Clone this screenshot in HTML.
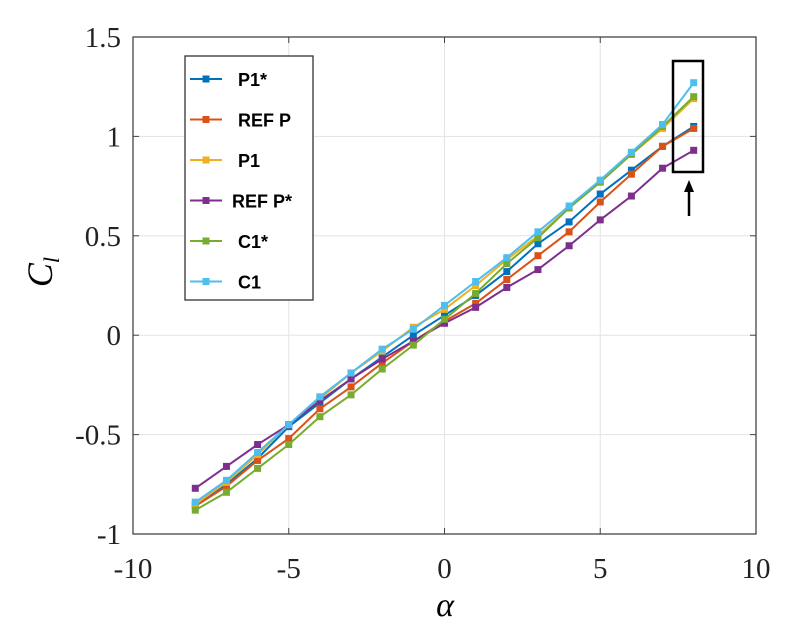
<!DOCTYPE html>
<html><head><meta charset="utf-8"><style>
body{margin:0;background:#fff;width:789px;height:633px;overflow:hidden}
text{font-family:"Liberation Serif",serif}
</style></head><body>
<svg id="chart" width="789" height="633" xmlns="http://www.w3.org/2000/svg">
<g id="grid"></g>
<rect x="133" y="37" width="623" height="497" fill="none" stroke="#444" stroke-width="1.3"/>
<g id="ticks"></g>
<g id="series"></g>
<text x="445" y="616" font-size="34" font-style="italic" text-anchor="middle">α</text>
<text transform="translate(52,272) rotate(-90)" font-size="36" font-style="italic" text-anchor="middle">C<tspan font-size="22" dy="7">l</tspan></text>
<g id="legend">
<rect x="185" y="56" width="128" height="244" fill="#fff" stroke="#333" stroke-width="1.3"/>
</g>
<rect x="673" y="61" width="30" height="111" fill="none" stroke="#000" stroke-width="2.5"/>
<line x1="689" y1="216" x2="689" y2="188" stroke="#000" stroke-width="2.5"/>
<polygon points="689,180 684,192 694,192" fill="#000"/>
</svg>
<script>
const alphas=[-8,-7,-6,-5,-4,-3,-2,-1,0,1,2,3,4,5,6,7,8];
const seriesNames=["P1*","REF P","P1","REF P*","C1*","C1"];
const seriesColors=["#0072BD","#D95319","#EDB120","#7E2F8E","#77AC30","#4DBEEE"];
const p1Star=[-0.85,-0.75,-0.62,-0.46,-0.34,-0.22,-0.11,0.00,0.10,0.20,0.32,0.46,0.57,0.71,0.83,0.95,1.05];
const refP=[-0.86,-0.76,-0.63,-0.52,-0.37,-0.26,-0.14,-0.03,0.07,0.16,0.28,0.40,0.52,0.67,0.81,0.95,1.04];
const p1=[-0.85,-0.74,-0.60,-0.45,-0.32,-0.19,-0.08,0.04,0.13,0.25,0.38,0.50,0.64,0.77,0.91,1.04,1.19];
const refPStar=[-0.77,-0.66,-0.55,-0.45,-0.33,-0.22,-0.12,-0.03,0.06,0.14,0.24,0.33,0.45,0.58,0.70,0.84,0.93];
const c1Star=[-0.88,-0.79,-0.67,-0.55,-0.41,-0.30,-0.17,-0.05,0.08,0.21,0.36,0.49,0.64,0.77,0.91,1.05,1.20];
const c1=[-0.84,-0.73,-0.59,-0.45,-0.31,-0.19,-0.07,0.03,0.15,0.27,0.39,0.52,0.65,0.78,0.92,1.06,1.27];
const xTicks=[-10,-5,0,5,10];
const yTicks=[-1,-0.5,0,0.5,1,1.5];
const yTickLabels=["-1","-0.5","0","0.5","1","1.5"];
const allSeries=[p1Star,refP,p1,refPStar,c1Star,c1];

const NS="http://www.w3.org/2000/svg";
function xs(v){return 133+(v+10)/20*623;}
function ys(v){return 534-(v+1)/2.5*497;}
function mk(tag,attrs,parent){const e=document.createElementNS(NS,tag);for(const k in attrs)e.setAttribute(k,attrs[k]);parent.appendChild(e);return e;}
const grid=document.getElementById('grid'),ticks=document.getElementById('ticks'),ser=document.getElementById('series'),leg=document.getElementById('legend');
xTicks.forEach(t=>{
  const g=mk('line',{x1:xs(t),x2:xs(t),y1:37,y2:534,stroke:'#e3e3e3','stroke-width':1},grid);
  
  
  mk('line',{x1:xs(t),x2:xs(t),y1:534,y2:528,stroke:'#444'},ticks);
  mk('line',{x1:xs(t),x2:xs(t),y1:37,y2:43,stroke:'#444'},ticks);
  const l=mk('text',{x:xs(t),y:578,'font-size':29,'text-anchor':'middle',fill:'#222'},ticks);
  l.textContent=String(t);
  
  
});
yTicks.forEach((t,i)=>{
  const g=mk('line',{x1:133,x2:756,y1:ys(t),y2:ys(t),stroke:'#e3e3e3','stroke-width':1},grid);
  
  
  mk('line',{x1:133,x2:139,y1:ys(t),y2:ys(t),stroke:'#444'},ticks);
  mk('line',{x1:756,x2:750,y1:ys(t),y2:ys(t),stroke:'#444'},ticks);
  const l=mk('text',{x:121,y:ys(t)+10,'font-size':29,'text-anchor':'end',fill:'#222'},ticks);
  l.textContent=yTickLabels[i];
  
  
});
allSeries.forEach((vals,si)=>{
  const g=mk('g',{},ser);
  
  
  const pts=vals.map((v,i)=>xs(alphas[i])+','+ys(v)).join(' ');
  mk('polyline',{points:pts,fill:'none',stroke:seriesColors[si],'stroke-width':2},g);
  vals.forEach((v,i)=>{
    const m=mk('rect',{x:xs(alphas[i])-3.5,y:ys(v)-3.5,width:7,height:7,fill:seriesColors[si]},g);
    
    
  });
  const y=79+si*40.5;
  const e=mk('g',{},leg);
  
  
  mk('line',{x1:190,x2:222,y1:y,y2:y,stroke:seriesColors[si],'stroke-width':2},e);
  mk('rect',{x:202.5,y:y-3.5,width:7,height:7,fill:seriesColors[si]},e);
  const t=mk('text',{x:si===3?232:238,y:y+7,'font-size':18,'font-weight':'bold',style:'font-family:"Liberation Sans",sans-serif'},e);
  t.textContent=seriesNames[si];
});
</script>
</body></html>
